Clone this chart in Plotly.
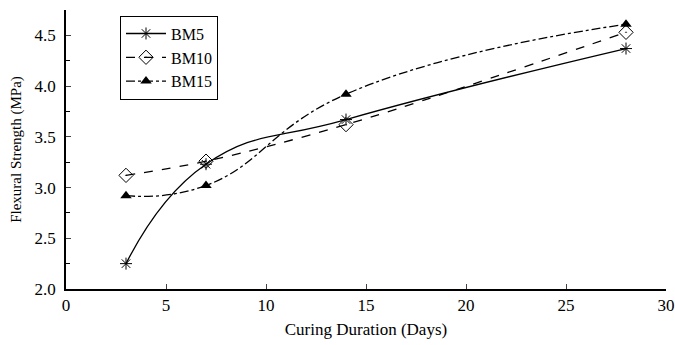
import plotly.graph_objects as go

days = [3, 7, 14, 28]
bm5 = [2.25, 3.23, 3.67, 4.37]
bm10 = [3.12, 3.26, 3.62, 4.53]
bm15 = [2.92, 3.02, 3.92, 4.61]

x_ticks = [0, 5, 10, 15, 20, 25, 30]
y_ticks = [2.0, 2.5, 3.0, 3.5, 4.0, 4.5]

FONT = "Times New Roman, Liberation Serif, serif"

fig = go.Figure()
fig.add_trace(go.Scatter(
    x=days, y=bm5, name="BM5", mode="lines+markers",
    line=dict(color="black", width=1.3, shape="spline", smoothing=1.3),
    marker=dict(symbol="asterisk-open", size=10, color="black", line=dict(color="black", width=1))))
fig.add_trace(go.Scatter(
    x=days, y=bm10, name="BM10", mode="lines+markers",
    line=dict(color="black", width=1.3, dash="dash", shape="spline", smoothing=1.0),
    marker=dict(symbol="diamond-open-dot", size=11, color="black", line=dict(color="black", width=1))))
fig.add_trace(go.Scatter(
    x=days, y=bm15, name="BM15", mode="lines+markers",
    line=dict(color="black", width=1.3, dash="dashdot", shape="spline", smoothing=1.3),
    marker=dict(symbol="triangle-up", size=10, color="black")))

fig.update_layout(
    width=675, height=345,
    margin=dict(l=66, r=9, t=10, b=56),
    paper_bgcolor="white", plot_bgcolor="white",
    font=dict(family=FONT, color="black", size=16),
    showlegend=True,
    legend=dict(x=0.09, y=0.98, xanchor="left", yanchor="top",
                bordercolor="black", borderwidth=1, bgcolor="white",
                font=dict(family=FONT, size=16), tracegroupgap=0, itemwidth=40),
    xaxis=dict(range=[0, 30], tickvals=x_ticks, ticks="inside", ticklen=5, automargin=False,
               tickwidth=1, showline=True, linecolor="black", linewidth=1.5,
               showgrid=False, zeroline=False, tickfont=dict(family=FONT, size=17),
               title=dict(text="Curing Duration (Days)", font=dict(family=FONT, size=17), standoff=9)),
    yaxis=dict(range=[2.0, 4.75], tickvals=y_ticks, tickformat=".1f", ticks="inside", automargin=False,
               ticklen=5, tickwidth=1, showline=True, linecolor="black", linewidth=1.5,
               showgrid=False, zeroline=False, tickfont=dict(family=FONT, size=17),
               ticklabelstandoff=5,
               minor=dict(tickvals=[2.25, 2.75, 3.25, 3.75, 4.25, 4.75], ticks="inside", ticklen=4, tickcolor="black"),
               title=dict(text="Flexural Strength (MPa)", font=dict(family=FONT, size=15), standoff=9)),
)

fig.write_html("out.html", config={"displayModeBar": False},
               post_script="document.body.style.margin='0';")
